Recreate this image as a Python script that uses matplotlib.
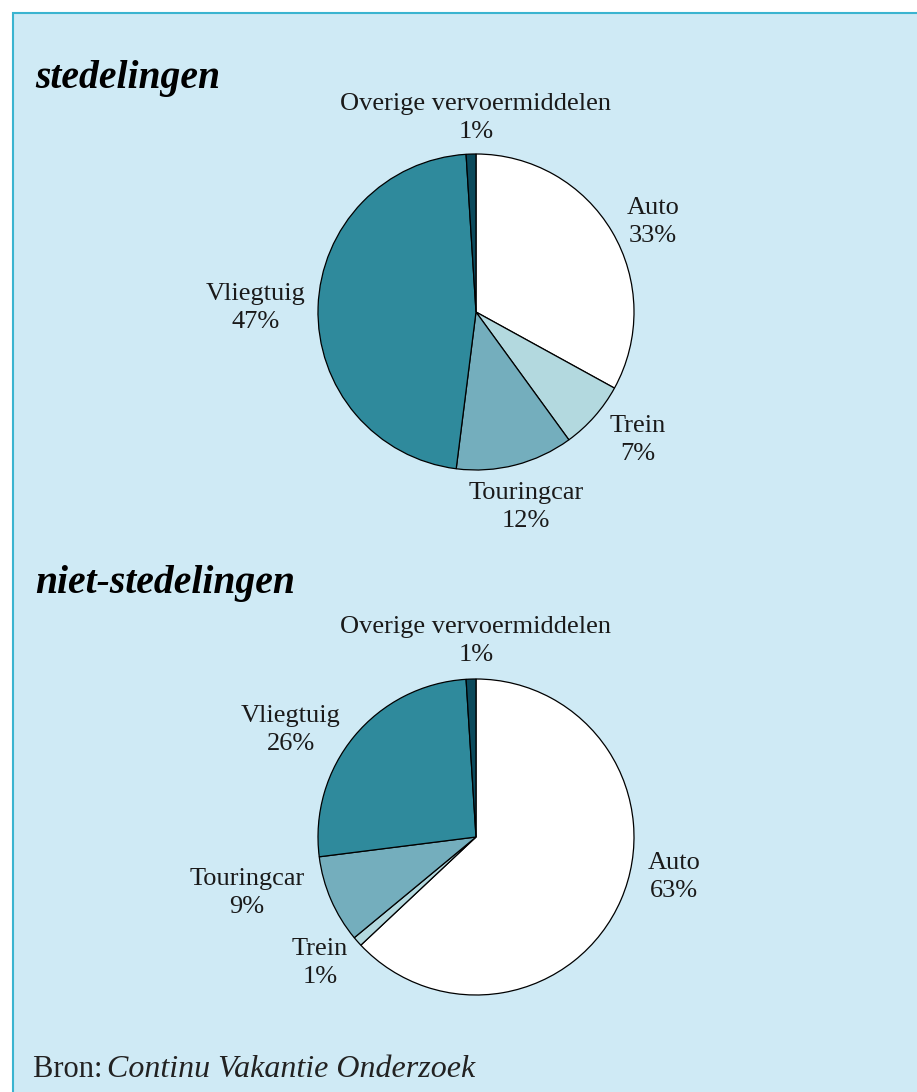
import matplotlib.pyplot as plt
from matplotlib.patches import Rectangle

# vervoermiddelen, met de klok mee vanaf boven
categorieen = ["Auto", "Trein", "Touringcar", "Vliegtuig", "Overige vervoermiddelen"]
stedelingen = [33, 7, 12, 47, 1]
niet_stedelingen = [63, 1, 9, 26, 1]
kleuren = ["#ffffff", "#b3d9df", "#74aebd", "#2f8a9c", "#0b4a5c"]

plt.rcParams['font.family'] = ['Liberation Serif', 'DejaVu Serif']

W, H = 917, 1092
fig = plt.figure(figsize=(W / 100, H / 100), dpi=100)
fig.patch.set_facecolor("white")
ax = fig.add_axes([0, 0, 1, 1])
ax.set_xlim(0, W)
ax.set_ylim(0, H)
ax.set_aspect("equal")
ax.axis("off")

# achtergrondkader
ax.add_patch(Rectangle((13, -20), W + 20, H - 13 + 20, facecolor="#cfeaf5",
                       edgecolor="#3ab4d0", linewidth=1.5, zorder=0))

r = 158
# label offsets (pixels vanaf middelpunt)
lab_pos_1 = [(177, 90), (162, -128), (50, -195), (-220, 4), (0, 194)]
lab_pos_2 = [(198, -40), (-156, -126), (-229, -56), (-185, 107), (0, 196)]


def taart(waarden, centrum, lab_pos):
    ax.pie(waarden, colors=kleuren, startangle=90, counterclock=False,
           center=centrum, radius=r,
           wedgeprops=dict(edgecolor="black", linewidth=0.9))
    for naam, w, (dx, dy) in zip(categorieen, waarden, lab_pos):
        ax.text(centrum[0] + dx, centrum[1] + dy, f"{naam}\n{w}%",
                ha="center", va="center", fontsize=19, linespacing=1.3,
                color="#1a1a1a")


taart(stedelingen, (476, H - 312), lab_pos_1)
taart(niet_stedelingen, (476, H - 837), lab_pos_2)
ax.set_xlim(0, W)
ax.set_ylim(0, H)

ax.text(35, H - 88, "stedelingen", fontsize=28.5, fontweight="bold",
        fontstyle="italic", ha="left", va="baseline")
ax.text(35, H - 593, "niet-stedelingen", fontsize=28.5, fontweight="bold",
        fontstyle="italic", ha="left", va="baseline")
ax.text(33, H - 1077, "Bron: ", fontsize=22, ha="left", va="baseline",
        color="#222222")
ax.text(107, H - 1077, "Continu Vakantie Onderzoek", fontsize=23,
        fontstyle="italic", ha="left", va="baseline", color="#222222")

fig.savefig("out.png", dpi=100)
